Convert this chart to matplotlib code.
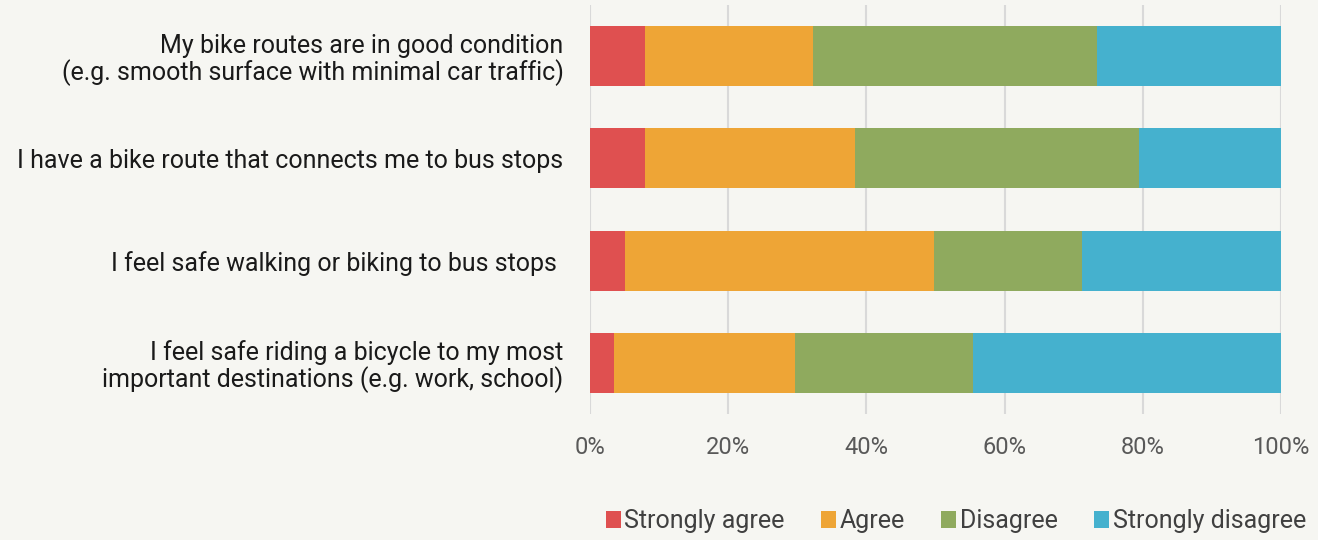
import matplotlib
matplotlib.use("Agg")
import matplotlib.pyplot as plt
from matplotlib.patches import Patch
import numpy as np

plt.rcParams['font.family'] = ['Roboto', 'DejaVu Sans']

categories = [
    "My bike routes are in good condition\n(e.g. smooth surface with minimal car traffic)",
    "I have a bike route that connects me to bus stops",
    "I feel safe walking or biking to bus stops ",
    "I feel safe riding a bicycle to my most\nimportant destinations (e.g. work, school)",
]
series_names = ["Strongly agree", "Agree", "Disagree", "Strongly disagree"]
strongly_agree = [8.0, 8.0, 5.1, 3.5]
agree = [24.3, 30.3, 44.7, 26.2]
disagree = [41.1, 41.1, 21.4, 25.7]
strongly_disagree = [26.6, 20.6, 28.8, 44.6]
tick_values = [0, 20, 40, 60, 80, 100]
tick_labels = ["0%", "20%", "40%", "60%", "80%", "100%"]

colors = ["#DF5050", "#EEA536", "#8FAA5E", "#45B1CE"]
bg = "#F6F6F2"

fig = plt.figure(figsize=(13.18, 5.4), dpi=100, facecolor=bg)
ax = fig.add_axes([590/1318, 1-414/540, (1281-590)/1318, (414-5)/540])
ax.set_facecolor(bg)

y = np.arange(len(categories))
data = [strongly_agree, agree, disagree, strongly_disagree]
left = np.zeros(len(categories))
for vals, c, name in zip(data, colors, series_names):
    vals = np.array(vals)
    ax.barh(y, vals, left=left, height=0.586, color=c, label=name, zorder=3)
    left += vals

ax.set_ylim(len(categories) - 0.5, -0.5)
ax.set_xlim(0, 100)
ax.set_xticks(tick_values)
ax.set_xticklabels(tick_labels, fontsize=17, color="#595959")
ax.set_yticks(y)
ax.set_yticklabels(categories, fontsize=18, color="#1a1a1a", linespacing=1.05)
ax.tick_params(axis='both', length=0)
ax.tick_params(axis='x', pad=16)
ax.tick_params(axis='y', pad=19)
for s in ax.spines.values():
    s.set_visible(False)
ax.xaxis.grid(True, color="#D9D9D9", linewidth=1.5, zorder=0)
ax.set_axisbelow(True)

handles = [Patch(facecolor=c, edgecolor='none') for c in colors]
fig.legend(handles, series_names, loc='center right', bbox_to_anchor=(1306/1318, 1-521/540),
           ncol=4, frameon=False, fontsize=18, handlelength=0.6, handleheight=0.65,
           handletextpad=0.15, columnspacing=1.45, labelcolor="#404040",
           borderpad=0, borderaxespad=0)

fig.savefig("out.png", dpi=100, facecolor=bg)
